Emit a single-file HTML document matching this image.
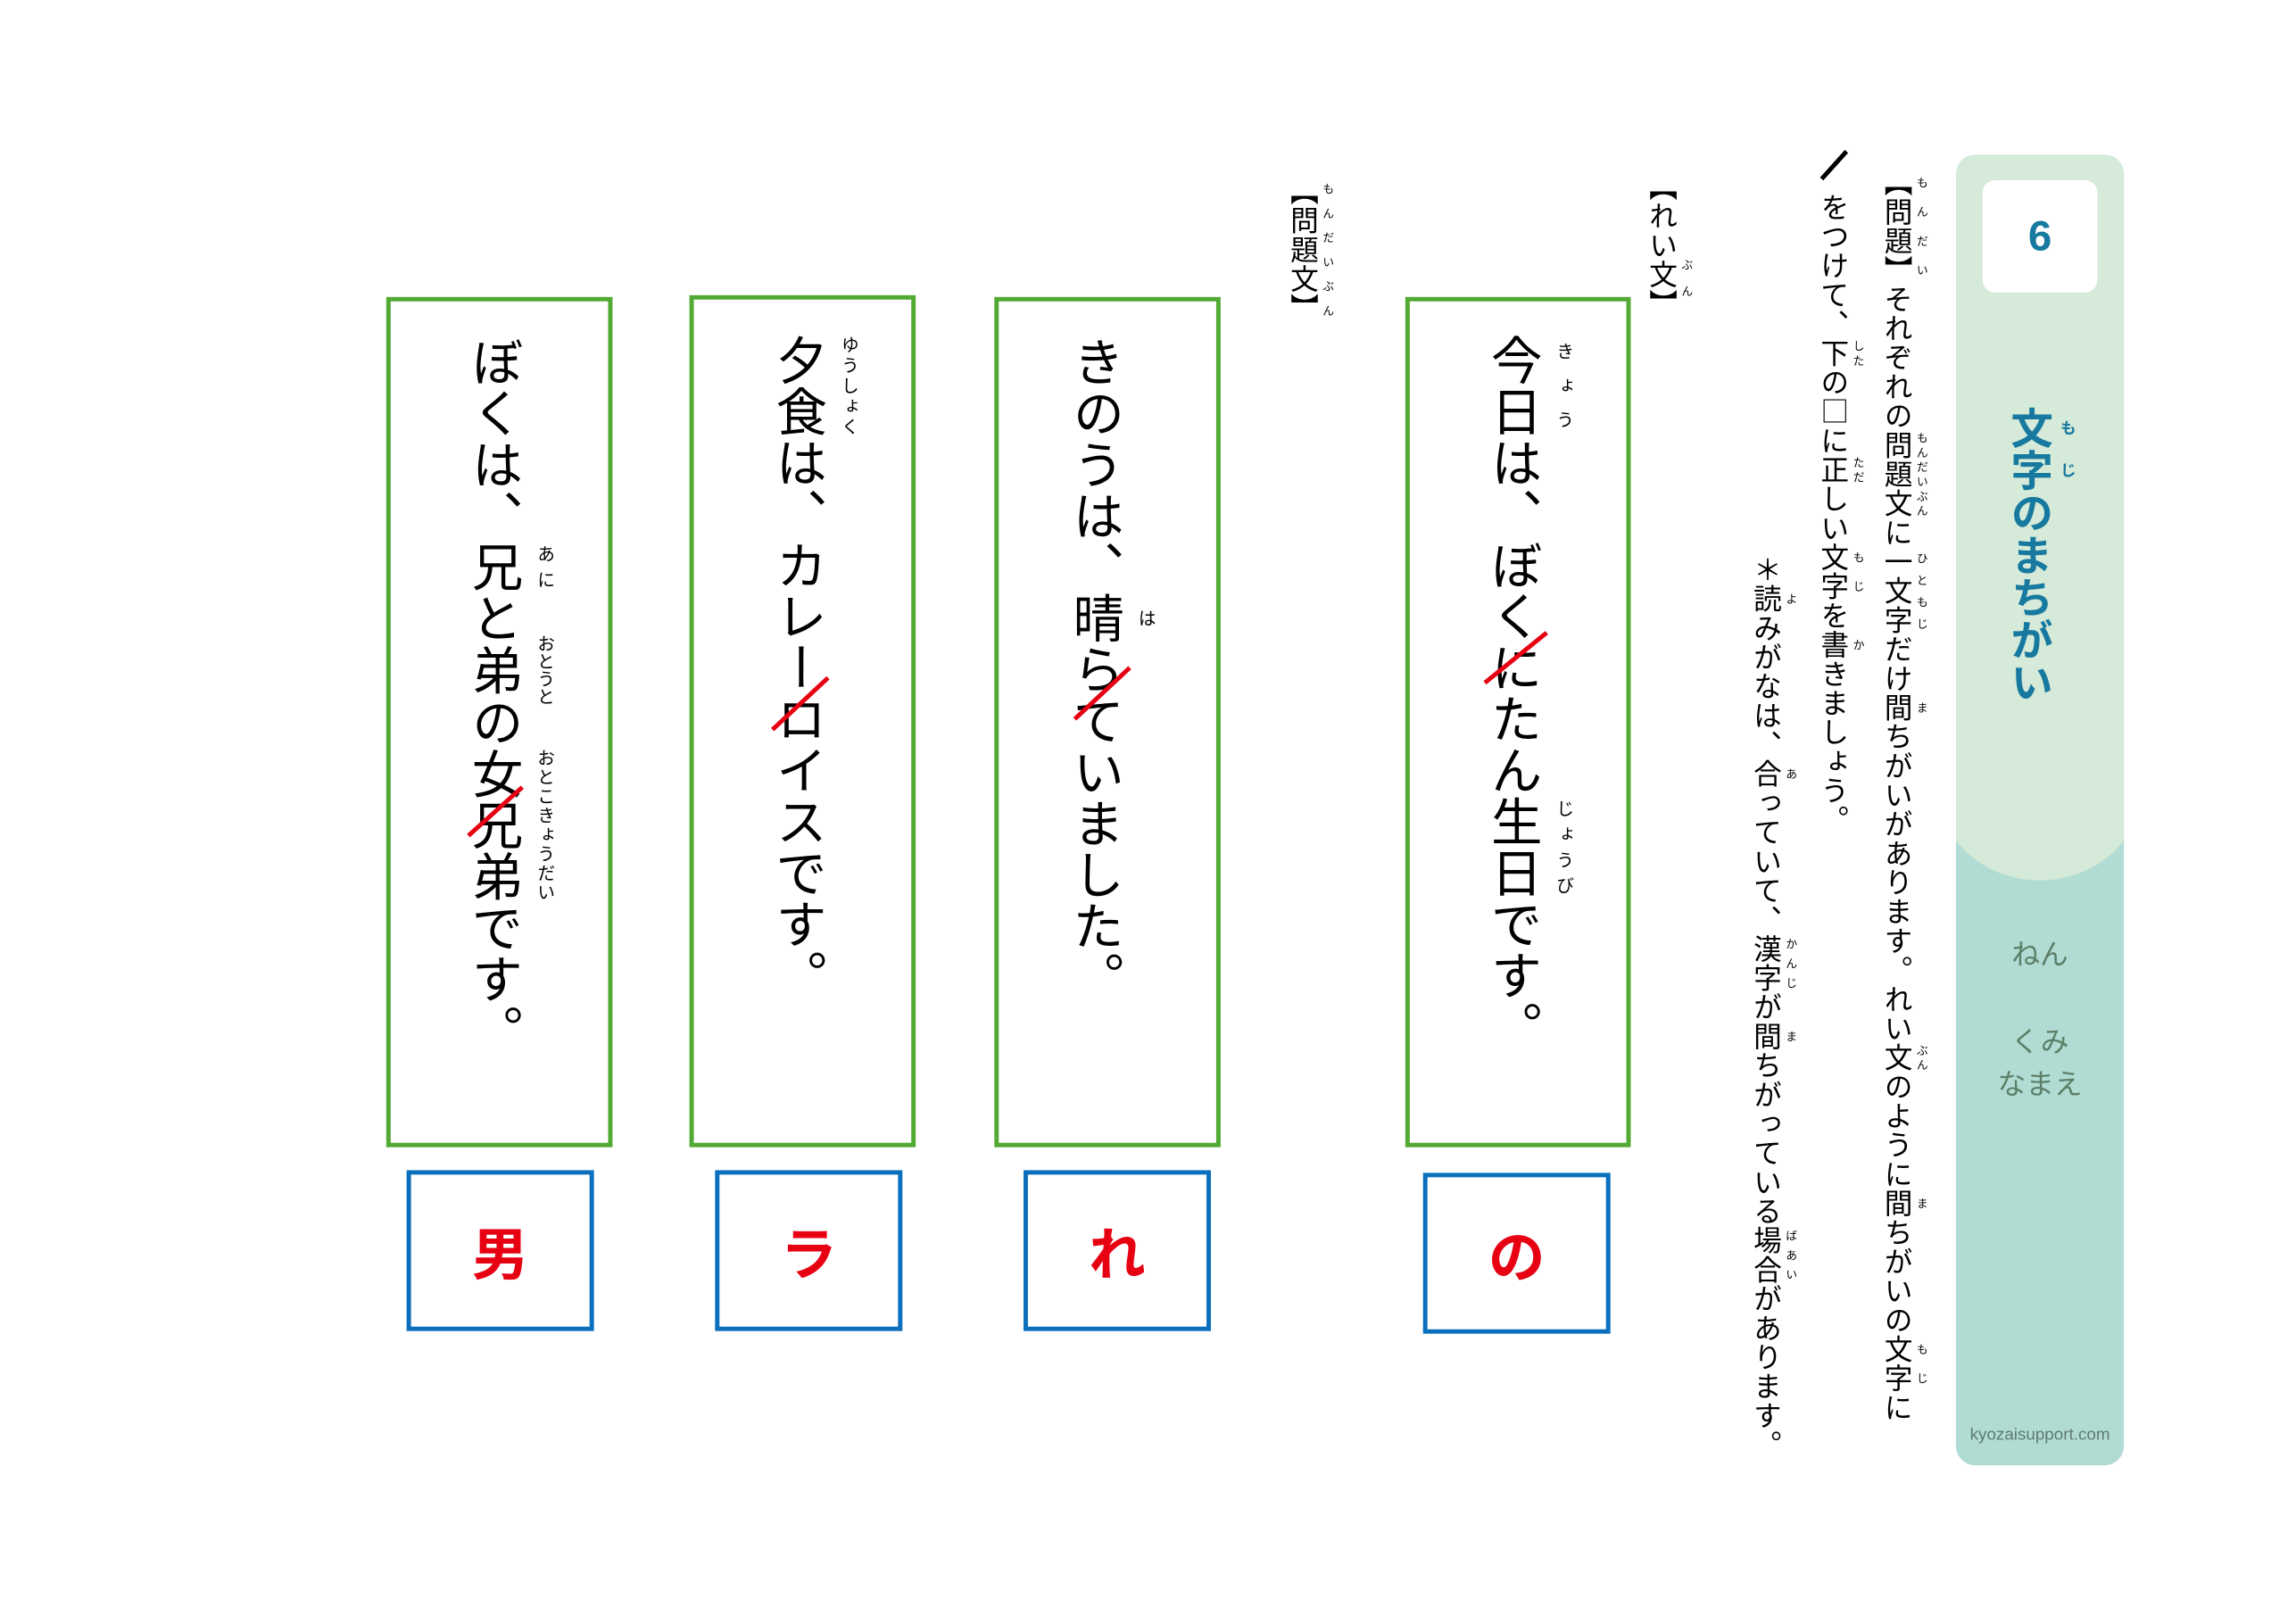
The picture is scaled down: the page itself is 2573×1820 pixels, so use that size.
<!DOCTYPE html>
<html><head><meta charset="utf-8">
<style>
html,body{margin:0;padding:0;background:#fff;}
body{width:2573px;height:1820px;position:relative;overflow:hidden;font-family:"Liberation Sans","Noto Sans CJK JP",sans-serif;color:#000;}
#wrap{position:absolute;left:0;top:0;width:2573px;height:1820px;transform:scale(0.9905);transform-origin:0 0;}
.abs{position:absolute;}
.v{position:absolute;writing-mode:vertical-rl;white-space:nowrap;line-height:1;}
.gbox{position:absolute;border:5px solid #52a933;box-sizing:border-box;}
.bbox{position:absolute;border:5px solid #0a6fbd;box-sizing:border-box;display:flex;align-items:center;justify-content:center;color:#e60012;font-weight:bold;font-size:64px;font-family:"Noto Sans CJK JP",sans-serif;}
.main{font-size:58px;font-family:"Noto Sans CJK JP",sans-serif;}
.main rt{font-size:20px;position:relative;left:16px;}
.ins{font-size:32px;letter-spacing:1px;font-family:"Noto Sans CJK JP",sans-serif;}
.ins rt{font-size:13px;letter-spacing:0;position:relative;left:4px;}
.red{position:absolute;height:5px;background:#e60012;transform-origin:0 50%;}
</style></head><body>
<div id="wrap">
<!-- sidebar -->
<div class="abs" style="left:2213px;top:175px;width:190px;height:1483px;border-radius:22px;background:#b1dcd4;overflow:hidden;">
  <div class="abs" style="left:-20px;top:-300px;width:230px;height:1121px;border-radius:0 0 50% 50% / 0 0 103px 103px;background:#d5ead8;"></div>
  <div class="abs" style="left:30px;top:29px;width:130px;height:127px;background:#fff;border-radius:14px;text-align:center;line-height:127px;font-size:48px;font-weight:bold;color:#17799f;">6</div>
  <div class="v" style="left:62px;top:285px;font-size:48px;font-weight:bold;color:#17799f;font-family:'Noto Sans CJK JP',sans-serif;"><ruby>文字<rt style="font-size:18px;position:relative;left:8px;">もじ</rt></ruby>のまちがい</div>
  <div class="abs" style="left:0;width:190px;top:880px;text-align:center;font-size:32px;color:#5c7f68;font-family:'Noto Sans CJK JP',sans-serif;">ねん</div>
  <div class="abs" style="left:0;width:190px;top:978px;text-align:center;font-size:32px;color:#5c7f68;font-family:'Noto Sans CJK JP',sans-serif;line-height:48px;">くみ<br>なまえ</div>
  <div class="abs" style="left:0;width:190px;top:1438px;text-align:center;font-size:19px;color:#5f7a70;">kyozaisupport.com</div>
</div>

<!-- instructions -->
<div class="v ins" style="left:2132px;top:190px;"><ruby>【問題】<rt>もんだい</rt></ruby>それぞれの<ruby>問題文<rt>もんだいぶん</rt></ruby>に<ruby>一文字<rt>ひともじ</rt></ruby>だけ<ruby>間<rt>ま</rt></ruby>ちがいがあります。れい<ruby>文<rt>ぶん</rt></ruby>のように<ruby>間<rt>ま</rt></ruby>ちがいの<ruby>文字<rt>もじ</rt></ruby>に</div>
<div class="abs" style="left:2061px;top:200px;width:42px;height:5px;background:#000;transform:rotate(-48deg);transform-origin:0 50%;"></div>
<div class="v ins" style="left:2060px;top:218px;">をつけて、<ruby>下<rt>した</rt></ruby>の□に<ruby>正<rt>ただ</rt></ruby>しい<ruby>文字<rt>もじ</rt></ruby>を<ruby>書<rt>か</rt></ruby>きましょう。</div>
<div class="v ins" style="left:1984px;top:628px;">＊<ruby>読<rt>よ</rt></ruby>みがなは、<ruby>合<rt>あ</rt></ruby>っていて、<ruby>漢字<rt>かんじ</rt></ruby>が<ruby>間<rt>ま</rt></ruby>ちがっている<ruby>場合<rt>ばあい</rt></ruby>があります。</div>

<div class="v ins" style="left:1866px;top:195px;"><ruby>【れい文】<rt>　　　ぶん</rt></ruby></div>
<div class="v ins" style="left:1460px;top:200px;"><ruby>【問題文】<rt>もんだいぶん</rt></ruby></div>

<!-- green boxes -->
<div class="gbox" style="left:1590px;top:336px;width:255px;height:962px;"></div>
<div class="gbox" style="left:1125px;top:336px;width:256px;height:962px;"></div>
<div class="gbox" style="left:780px;top:334px;width:256px;height:964px;"></div>
<div class="gbox" style="left:437px;top:336px;width:256px;height:962px;"></div>

<!-- texts -->
<div class="v main" style="left:1687px;top:378px;"><ruby>今日<rt>きょう</rt></ruby>は、ぼくにたん<ruby>生日<rt>じょうび</rt></ruby>です。</div>
<div class="v main" style="left:1214px;top:380px;">きのうは、<ruby>晴<rt>は</rt></ruby>らていました。</div>
<div class="v main" style="left:878px;top:378px;"><ruby>夕食<rt>ゆうしょく</rt></ruby>は、カレーロイスです。</div>
<div class="v main" style="left:534px;top:380px;">ぼくは、<ruby>兄<rt>あに</rt></ruby>と<ruby>弟<rt>おとうと</rt></ruby>の<ruby>女兄弟<rt>おとこきょうだい</rt></ruby>です。</div>

<!-- red slashes -->
<div class="red" style="left:1680px;top:770px;width:90px;transform:rotate(-39deg);"></div>
<div class="red" style="left:1216px;top:811px;width:85px;transform:rotate(-43deg);"></div>
<div class="red" style="left:874px;top:823px;width:86px;transform:rotate(-43deg);"></div>
<div class="red" style="left:530px;top:943px;width:82px;transform:rotate(-42deg);"></div>

<!-- blue boxes -->
<div class="bbox" style="left:1610px;top:1327px;width:212px;height:182px;">の</div>
<div class="bbox" style="left:1158px;top:1324px;width:212px;height:182px;">れ</div>
<div class="bbox" style="left:809px;top:1324px;width:212px;height:182px;">ラ</div>
<div class="bbox" style="left:460px;top:1324px;width:212px;height:182px;">男</div>
</div>
</body></html>
